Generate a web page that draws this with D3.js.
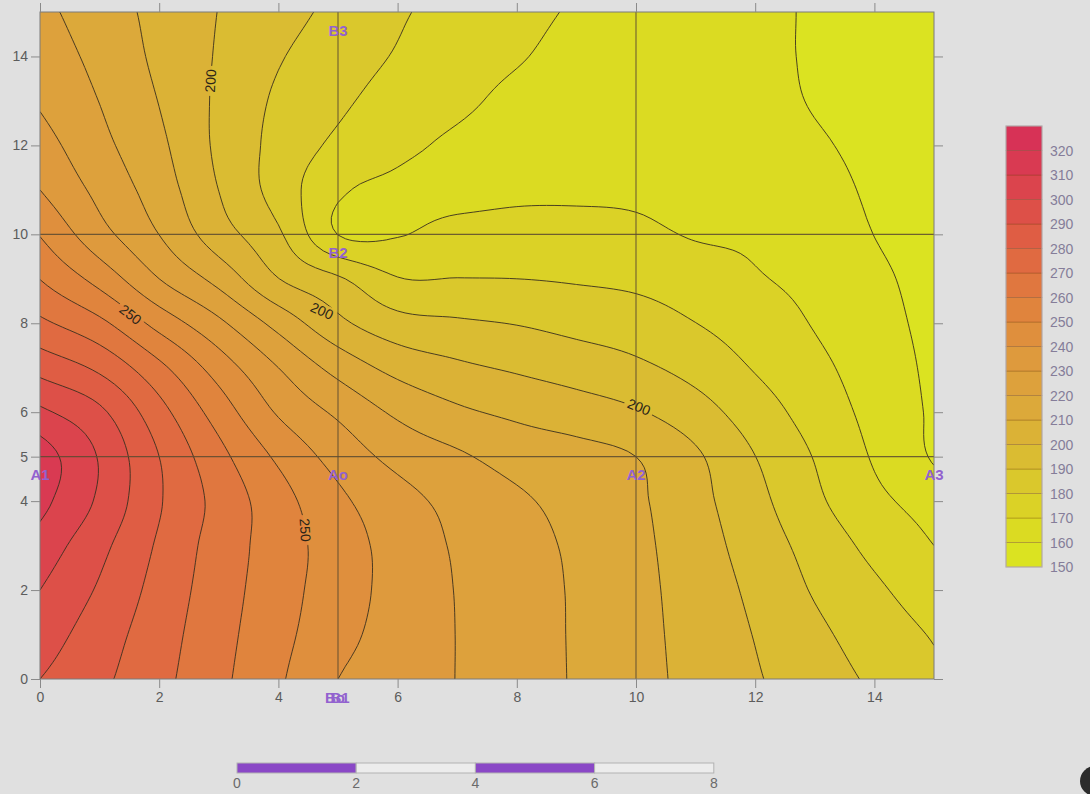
<!DOCTYPE html>
<html>
<head>
<meta charset="utf-8">
<script src="https://cdn.jsdelivr.net/npm/d3@7"></script>
<style>
  html, body { margin: 0; padding: 0; background: #e0e0e0; }
  svg { display: block; font-family: "Liberation Sans", Arial, sans-serif; }
</style>
</head>
<body>
<svg id="chart" width="1090" height="794"></svg>
<script>
// ---- field samples on a 1-unit grid, x = 0..15 (columns), y = 0..15 (rows, bottom to top)
const xValues = d3.range(0, 16);
const yValues = d3.range(0, 16);
const fieldRows = [
  [290, 282.1, 272.8, 262.4, 251.4, 240, 234.9, 229.8, 224.5, 219.1, 213.2, 207.2, 200.9, 194.7, 188.4, 181.9],
  [295, 284.9, 274.4, 263.5, 253.1, 243.2, 235.9, 229.8, 224.4, 219.0, 213.0, 206.6, 199.6, 192.2, 185.4, 179.2],
  [300, 288.8, 276.4, 264.7, 254.3, 244.7, 236.6, 229.6, 224.3, 218.9, 212.8, 205.8, 197.8, 189.1, 181.8, 174.5],
  [305.9, 292.8, 278.6, 265.7, 255.1, 245, 236.1, 228.9, 223.7, 218.3, 212.4, 204.6, 195.5, 186.2, 177.3, 170],
  [313, 298.3, 280.9, 266.9, 254, 242.2, 233.6, 227, 221.6, 216.6, 211.6, 203.1, 193, 182, 172.5, 165.9],
  [315, 299.2, 280, 263.1, 248.2, 236.2, 227, 221.5, 216.2, 213.5, 210, 201.5, 190.1, 179.5, 169, 159],
  [302, 292, 273.6, 255.5, 238.9, 228.2, 218.2, 211.8, 208, 204.8, 201, 194.2, 184.9, 175.8, 167, 158.5],
  [286.6, 277.9, 262.5, 245.5, 230, 216.6, 206.8, 201.9, 198.7, 195.5, 192, 186.6, 179.3, 172.5, 165.2, 158],
  [272.1, 262.4, 246.4, 232.1, 216.6, 202.5, 193.7, 191.4, 189.6, 187, 184.7, 180.1, 175, 169.4, 163.3, 157.5],
  [259.8, 246.4, 230, 216.7, 200.2, 191.3, 180.5, 180.2, 180, 179.1, 177.8, 174.7, 170.8, 167.4, 161.8, 157],
  [249.5, 233.6, 219.9, 204.5, 191.5, 169.8, 169.5, 173.3, 173.8, 173.4, 172.1, 169.3, 168.5, 165.2, 159.9, 156.5],
  [240, 227.3, 215.1, 199.9, 186, 171.5, 168.3, 167, 168.2, 168.5, 168.3, 166.5, 165.6, 163, 158.8, 156],
  [234.1, 222.8, 212.1, 198.1, 186.9, 177.9, 172.2, 168.5, 166.5, 167, 166, 164.5, 163, 160.9, 158, 155.3],
  [228.9, 219.8, 209.7, 198.3, 188.4, 181.9, 175.7, 171.8, 168, 166.5, 165, 163.5, 162, 159.6, 157.5, 154.6],
  [225.5, 217.2, 207.9, 199.1, 190.8, 184.9, 179.2, 174.3, 170.7, 167.5, 165.5, 163.5, 161.5, 159.3, 157, 154],
  [222.6, 214.8, 207.2, 199.8, 193.6, 187.5, 181.2, 176.7, 172.6, 169.1, 166.6, 164.1, 161.7, 159.2, 156.5, 153.5]
];

// ---- contour levels and band colours (band k spans levels[k]..levels[k]+10)
const levels = d3.range(150, 330, 10);
const bandColors = [
  "#dbe321", "#dbdb22", "#dbd226", "#dac82c", "#dabc32", "#dbb236",
  "#dca93a", "#dda13c", "#de9a3d", "#df8f3d", "#e0843d", "#e0773f",
  "#e06a41", "#df5d44", "#dd5048", "#db444d", "#d93a52", "#d73256"
];
const colorbarTicks = d3.range(150, 330, 10);

// ---- axes, reference lines, annotations
const xTicks = [0, 2, 4, 6, 8, 10, 12, 14];
const yTicks = [0, 2, 4, 5, 6, 8, 10, 12, 14];
const refLinesX = [5, 10];
const refLinesY = [5, 10];
const pointLabels = [
  { text: "A1", x: 0, y: 5 },
  { text: "Ao", x: 5, y: 5 },
  { text: "A2", x: 10, y: 5 },
  { text: "A3", x: 15, y: 5 },
  { text: "B3", x: 5, y: 15 },
  { text: "B2", x: 5, y: 10 },
  { text: "Bo", x: 5, y: 0, shift: -3 },
  { text: "B1", x: 5, y: 0, shift: 2 }
];
const contourLabels = [
  { level: 200, x: 2.86, y: 13.45, angle: -87 },
  { level: 250, x: 1.52, y: 8.2, angle: 38 },
  { level: 200, x: 4.73, y: 8.28, angle: 24 },
  { level: 200, x: 10.05, y: 6.12, angle: 22 },
  { level: 250, x: 4.45, y: 3.35, angle: 86 }
];
const scaleBarTicks = [0, 2, 4, 6, 8];

// ---- layout
const svg = d3.select("#chart");
const plot = { left: 40, right: 934, top: 12, bottom: 679 };
const x = d3.scaleLinear().domain([0, 15]).range([plot.left, plot.right]);
const y = d3.scaleLinear().domain([0, 15]).range([plot.bottom, plot.top]);

// ---- smooth resampling of the grid (Catmull-Rom) for drawing the contours
const step = 0.125;
const N = Math.round(15 / step) + 1;
function gridAt(i, j) {
  // linear extension one cell beyond the edges
  if (j < 0) return 2 * gridAt(i, 0) - gridAt(i, 1);
  if (j > 15) return 2 * gridAt(i, 15) - gridAt(i, 14);
  if (i < 0) return 2 * fieldRows[j][0] - fieldRows[j][1];
  if (i > 15) return 2 * fieldRows[j][15] - fieldRows[j][14];
  return fieldRows[j][i];
}
function cubic(p0, p1, p2, p3, t) {
  return p1 + 0.5 * t * (p2 - p0 + t * (2 * p0 - 5 * p1 + 4 * p2 - p3 + t * (3 * (p1 - p2) + p3 - p0)));
}
function sampleAt(px, py) {
  const i = Math.min(Math.floor(px), 14), j = Math.min(Math.floor(py), 14);
  const tx = px - i, ty = py - j;
  const rows = [];
  for (let m = -1; m <= 2; m++) {
    rows.push(cubic(gridAt(i - 1, j + m), gridAt(i, j + m), gridAt(i + 1, j + m), gridAt(i + 2, j + m), tx));
  }
  return cubic(rows[0], rows[1], rows[2], rows[3], ty);
}
const values = [];
for (let j = 0; j < N; j++) for (let i = 0; i < N; i++) values.push(sampleAt(i * step, j * step));

const contours = d3.contours().size([N, N]).thresholds(levels)(values);
const proj = d3.geoTransform({
  point: function (u, v) { this.stream.point(x((u - 0.5) * step), y((v - 0.5) * step)); }
});
const path = d3.geoPath(proj);

const defs = svg.append("defs");
defs.append("clipPath").attr("id", "plotClip")
  .append("rect").attr("x", plot.left).attr("y", plot.top)
  .attr("width", plot.right - plot.left).attr("height", plot.bottom - plot.top);

// gaps in the contour lines behind their labels
const mask = defs.append("mask").attr("id", "labelGaps").attr("maskUnits", "userSpaceOnUse")
  .attr("x", 0).attr("y", 0).attr("width", 1090).attr("height", 794);
mask.append("rect").attr("width", 1090).attr("height", 794).attr("fill", "white");
contourLabels.forEach(d => {
  mask.append("rect").attr("x", -15).attr("y", -7).attr("width", 30).attr("height", 14)
    .attr("fill", "black")
    .attr("transform", `translate(${x(d.x)},${y(d.y)}) rotate(${d.angle})`);
});

// filled bands
const gPlot = svg.append("g").attr("clip-path", "url(#plotClip)");
gPlot.selectAll("path.band").data(contours).join("path")
  .attr("class", "band")
  .attr("d", path)
  .attr("fill", (d, k) => bandColors[k]);

// contour lines
gPlot.append("g").attr("mask", "url(#labelGaps)")
  .selectAll("path.iso").data(contours.filter(c => c.value > 150)).join("path")
  .attr("class", "iso")
  .attr("d", path)
  .attr("fill", "none")
  .attr("stroke", "#3a301f")
  .attr("stroke-width", 1)
  .attr("stroke-opacity", 0.9);

// reference lines through the A and B points
gPlot.selectAll("line.rx").data(refLinesX).join("line")
  .attr("x1", d => x(d)).attr("x2", d => x(d))
  .attr("y1", plot.top).attr("y2", plot.bottom)
  .attr("stroke", "#5a4a30").attr("stroke-width", 1.1).attr("stroke-opacity", 0.85);
gPlot.selectAll("line.ry").data(refLinesY).join("line")
  .attr("y1", d => y(d)).attr("y2", d => y(d))
  .attr("x1", plot.left).attr("x2", plot.right)
  .attr("stroke", "#5a4a30").attr("stroke-width", 1.1).attr("stroke-opacity", 0.85);

// contour value labels
svg.selectAll("text.clab").data(contourLabels).join("text")
  .attr("class", "clab")
  .attr("transform", d => `translate(${x(d.x)},${y(d.y)}) rotate(${d.angle})`)
  .attr("text-anchor", "middle").attr("dominant-baseline", "central")
  .attr("font-size", 14).attr("fill", "#2b2418")
  .text(d => d.level);

// frame
svg.append("rect").attr("x", plot.left).attr("y", plot.top)
  .attr("width", plot.right - plot.left).attr("height", plot.bottom - plot.top)
  .attr("fill", "none").attr("stroke", "#7b7b7b").attr("stroke-width", 1);

// axes (ticks on all four sides, labels on left and bottom)
const axisColor = "#8a8a8a";
const labelColor = "#5c5c5c";
const bottomAxis = svg.append("g").attr("transform", `translate(0,${plot.bottom})`)
  .call(d3.axisBottom(x).tickValues(xTicks).tickSize(9).tickPadding(4).tickFormat(d3.format("d")));
const topAxis = svg.append("g").attr("transform", `translate(0,${plot.top})`)
  .call(d3.axisTop(x).tickValues(xTicks).tickSize(9).tickFormat(""));
const leftAxis = svg.append("g").attr("transform", `translate(${plot.left},0)`)
  .call(d3.axisLeft(y).tickValues(yTicks).tickSize(9).tickPadding(3).tickFormat(d3.format("d")));
const rightAxis = svg.append("g").attr("transform", `translate(${plot.right},0)`)
  .call(d3.axisRight(y).tickValues(yTicks).tickSize(9).tickFormat(""));
[bottomAxis, topAxis, leftAxis, rightAxis].forEach(g => {
  g.select(".domain").remove();
  g.selectAll(".tick line").attr("stroke", axisColor);
  g.selectAll(".tick text").attr("fill", labelColor).attr("font-size", 14)
    .attr("font-family", "Liberation Sans, Arial, sans-serif");
});

// point labels
svg.selectAll("text.pt").data(pointLabels).join("text")
  .attr("class", "pt")
  .attr("x", d => x(d.x) + (d.shift || 0))
  .attr("y", d => y(d.y) + 18)
  .attr("text-anchor", "middle").attr("dominant-baseline", "central")
  .attr("font-size", 15).attr("font-weight", "bold")
  .attr("fill", "#9262cf")
  .text(d => d.text);

// colour bar
const cb = { left: 1006, width: 36 };
const cbY = d3.scaleLinear().domain([150, 330]).range([567, 126]);
const gCb = svg.append("g");
gCb.selectAll("rect.band").data(levels).join("rect")
  .attr("x", cb.left).attr("width", cb.width)
  .attr("y", d => cbY(d + 10)).attr("height", d => cbY(d) - cbY(d + 10))
  .attr("fill", (d, k) => bandColors[k])
  .attr("stroke", "rgba(110,60,20,0.35)").attr("stroke-width", 0.8);
gCb.append("rect").attr("x", cb.left).attr("y", cbY(330))
  .attr("width", cb.width).attr("height", cbY(150) - cbY(330))
  .attr("fill", "none").attr("stroke", "#b9b3ba").attr("stroke-width", 1);
gCb.selectAll("text").data(colorbarTicks).join("text")
  .attr("x", cb.left + cb.width + 8).attr("y", d => cbY(d))
  .attr("dominant-baseline", "central")
  .attr("font-size", 14).attr("fill", "#857d99")
  .text(d => d);

// scale bar below the plot, in the same units as the x axis
const sb = { x0: 237, top: 763, height: 10 };
const unit = x(1) - x(0);
const gSb = svg.append("g");
const segs = d3.pairs(scaleBarTicks);
gSb.selectAll("rect").data(segs).join("rect")
  .attr("x", d => sb.x0 + d[0] * unit).attr("width", d => (d[1] - d[0]) * unit)
  .attr("y", sb.top).attr("height", sb.height)
  .attr("fill", (d, k) => k % 2 === 0 ? "#8a48c6" : "#ececec")
  .attr("stroke", "#b2b2b2").attr("stroke-width", 1);
gSb.selectAll("text").data(scaleBarTicks).join("text")
  .attr("x", d => sb.x0 + d * unit).attr("y", sb.top + sb.height + 10)
  .attr("text-anchor", "middle").attr("dominant-baseline", "central")
  .attr("font-size", 14).attr("fill", "#6a6a6a")
  .text(d => d);

// dark round fixture at the lower right corner of the sheet
svg.append("circle").attr("cx", 1095).attr("cy", 781).attr("r", 15).attr("fill", "#2c2c2c");
</script>
</body>
</html>
